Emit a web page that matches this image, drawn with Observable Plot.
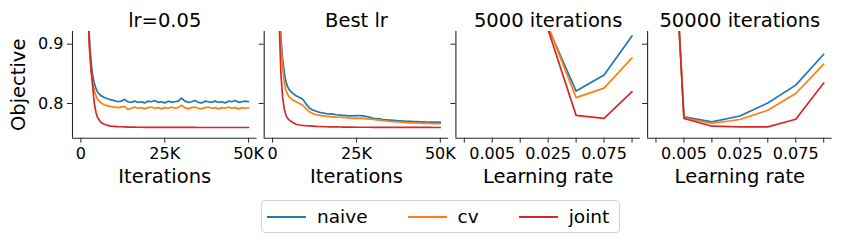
<!DOCTYPE html>
<html><head><meta charset="utf-8">
<script src="https://cdn.jsdelivr.net/npm/d3@7"></script>
<script src="https://cdn.jsdelivr.net/npm/@observablehq/plot@0.6"></script>
<style>
body{margin:0;background:#fff;font-family:"DejaVu Sans",sans-serif;}
#chart{position:relative;width:841px;height:242px;overflow:hidden;background:#fff;}
#chart svg{position:absolute;left:0;top:0;}
#legend{position:absolute;left:261px;top:200px;height:33px;box-sizing:border-box;border:1px solid #d4d4d4;border-radius:4px;display:flex;align-items:center;padding:0 10px 0 5px;font-size:18.5px;color:#000;}
.item{display:flex;align-items:center;margin-right:40px;}
.item:last-child{margin-right:0;}
.swatch{width:39px;height:2px;margin-right:11px;}
</style>
</head><body>
<div id="chart"><div id="legend"></div></div>
<script>
// ---- data ----
const series = ["naive", "cv", "joint"];
const colors = ["#1f77b4", "#ff7f0e", "#d62728"];
const panelTitles = ["lr=0.05", "Best lr", "5000 iterations", "50000 iterations"];
const iterations = [1000,2000,2500,3000,3500,4000,4500,5000,
  6000,7000,8000,9000,10000,11000,12000,13000,14000,15000,
  16000,17000,18000,19000,20000,21000,22000,23000,24000,25000,
  26000,27000,28000,29000,30000,31000,32000,33000,34000,35000,
  36000,37000,38000,39000,40000,41000,42000,43000,44000,45000,
  46000,47000,48000,49000,50000];
const iterTicks = [0, 25000, 50000];
const iterTickLabels = ["0", "25K", "50K"];
const lrNaive = [1.30,0.99,0.915,0.872,0.848,0.834,0.825,0.819,
  0.813,0.810,0.808,0.806,0.805,0.803,0.804,0.807,0.803,0.802,
  0.804,0.802,0.803,0.801,0.804,0.803,0.805,0.802,0.803,0.801,
  0.804,0.802,0.803,0.804,0.809,0.804,0.802,0.803,0.805,0.802,
  0.801,0.804,0.803,0.802,0.804,0.802,0.803,0.801,0.804,0.803,
  0.805,0.802,0.803,0.804,0.803];
const lrCv = [1.28,0.975,0.90,0.858,0.835,0.822,0.813,0.807,
  0.801,0.798,0.796,0.795,0.794,0.793,0.794,0.795,0.790,0.792,
  0.794,0.792,0.793,0.791,0.793,0.794,0.792,0.793,0.791,0.793,
  0.792,0.794,0.792,0.793,0.797,0.793,0.791,0.793,0.794,0.792,
  0.791,0.793,0.794,0.792,0.793,0.791,0.793,0.792,0.794,0.792,
  0.793,0.791,0.793,0.792,0.7925];
const lrJoint = [1.30,0.98,0.90,0.86,0.83,0.80,0.785,0.776,
  0.768,0.765,0.763,0.762,0.7615,0.761,0.7608,0.7605,0.7603,0.7602,
  0.7601,0.7600,0.7600,0.7599,0.7599,0.7598,0.7598,0.7598,0.7597,0.7597,
  0.7597,0.7597,0.7596,0.7596,0.7596,0.7596,0.7596,0.7596,0.7596,0.7595,
  0.7595,0.7595,0.7595,0.7595,0.7595,0.7595,0.7595,0.7595,0.7595,0.7595,
  0.7595,0.7595,0.7595,0.7595,0.7595];
const bestNaive = [1.35,0.96,0.91,0.875,0.852,0.836,0.828,0.823,
  0.817,0.813,0.810,0.807,0.799,0.792,0.789,0.787,0.785,0.784,
  0.783,0.7825,0.782,0.781,0.7805,0.780,0.7795,0.779,0.779,0.7795,
  0.7795,0.779,0.778,0.7765,0.775,0.7745,0.774,0.773,0.7725,0.772,
  0.7715,0.771,0.7708,0.7705,0.770,0.7698,0.7695,0.7693,0.769,0.769,
  0.7688,0.7687,0.7686,0.7685,0.7685];
const bestCv = [1.33,0.955,0.90,0.862,0.835,0.822,0.815,0.811,
  0.806,0.803,0.800,0.797,0.791,0.786,0.783,0.781,0.780,0.779,
  0.7785,0.778,0.7775,0.777,0.7768,0.7765,0.776,0.7755,0.775,0.7755,
  0.775,0.7748,0.774,0.7735,0.773,0.7725,0.772,0.7712,0.7705,0.770,
  0.7695,0.769,0.7685,0.768,0.7677,0.7675,0.7672,0.767,0.7668,0.7666,
  0.7664,0.7663,0.7662,0.7661,0.766];
const bestJoint = [1.5,0.93,0.848,0.81,0.79,0.780,0.775,0.772,
  0.768,0.765,0.7638,0.763,0.7625,0.7622,0.762,0.7615,0.7612,0.761,
  0.7608,0.7607,0.7606,0.7605,0.7604,0.7603,0.7602,0.7601,0.7601,0.7600,
  0.7600,0.7600,0.7600,0.7600,0.7599,0.7599,0.7599,0.7599,0.7599,0.7599,
  0.7598,0.7598,0.7598,0.7598,0.7598,0.7597,0.7597,0.7597,0.7597,0.7597,
  0.7596,0.7596,0.7595,0.7595,0.7595];
const lrIndex = [0, 1, 2, 3, 4, 5, 6];
const lrTickLabels = ["", "0.005", "", "0.025", "", "0.075", ""];
const it5kNaive = [1.35, 1.15, 1.00, 0.928, 0.821, 0.848, 0.914];
const it5kCv = [1.34, 1.14, 0.99, 0.930, 0.810, 0.826, 0.877];
const it5kJoint = [1.30, 1.10, 0.98, 0.924, 0.780, 0.775, 0.820];
const it50kNaive = [1.65, 0.7774, 0.769, 0.779, 0.801, 0.831, 0.883];
const it50kCv = [1.65, 0.7757, 0.7663, 0.773, 0.7887, 0.8169, 0.8663];
const it50kJoint = [1.65, 0.7747, 0.7617, 0.7606, 0.7606, 0.7735, 0.8347];
const yTicks = [0.8, 0.9];
const yLabel = "Objective";
const xLabels = ["Iterations", "Iterations", "Learning rate", "Learning rate"];

// ---- build tables ----
function table(xs, arrs) {
  return series.flatMap((s, k) => xs.map((x, i) => ({x, y: arrs[k][i], series: s})));
}
const panels = [
  {data: table(iterations, [lrNaive, lrCv, lrJoint]), domain: [-2500, 52500], ticks: iterTicks, labels: iterTickLabels},
  {data: table(iterations, [bestNaive, bestCv, bestJoint]), domain: [-2500, 52500], ticks: iterTicks, labels: iterTickLabels},
  {data: table(lrIndex, [it5kNaive, it5kCv, it5kJoint]), domain: [-0.3, 6.3], ticks: lrIndex, labels: lrTickLabels},
  {data: table(lrIndex, [it50kNaive, it50kCv, it50kJoint]), domain: [-0.3, 6.3], ticks: lrIndex, labels: lrTickLabels}
];

const W = 841, H = 195, frameW = 184.5, step = 191.7, left0 = 72, frameTop = 31, frameBottom = 137.7;
const yDomain = [0.7415, 0.9214];
const ink = "#262626";
const chart = document.getElementById("chart");

panels.forEach((p, i) => {
  const left = left0 + i * step;
  const tf = d => p.labels[p.ticks.indexOf(d)];
  const svg = Plot.plot({
    width: W, height: H,
    marginLeft: left, marginRight: W - left - frameW, marginTop: frameTop, marginBottom: H - frameBottom,
    style: {background: "transparent", overflow: "visible", fontFamily: "DejaVu Sans", color: "#000"},
    x: {domain: p.domain},
    y: {domain: yDomain},
    color: {domain: series, range: colors},
    marks: [
      Plot.line(p.data, {x: "x", y: "y", stroke: "series", z: "series", strokeWidth: 1.7, clip: true}),
      Plot.ruleX([p.domain[0]], {stroke: ink, strokeWidth: 1.1}),
      Plot.ruleY([yDomain[0]], {stroke: ink, strokeWidth: 1.1}),
      Plot.axisX({ticks: p.ticks, tickFormat: tf, tickSize: 5, tickPadding: 4, fontSize: 16, label: null, stroke: ink}),
      Plot.axisY({ticks: yTicks, tickFormat: i === 0 ? d3.format(".1f") : () => "", tickSize: 5, tickPadding: 4, fontSize: 16, label: null, stroke: ink}),
      Plot.text([panelTitles[i]], {text: d => d, frameAnchor: "top", dy: -18, fontSize: 19.5}),
      Plot.text([xLabels[i]], {text: d => d, frameAnchor: "bottom", dy: 45, fontSize: 19.5}),
      i === 0 ? Plot.text([yLabel], {text: d => d, frameAnchor: "left", textAnchor: "middle", dx: -54, rotate: -90, fontSize: 19.5}) : null
    ]
  });
  chart.appendChild(svg);
});

// ---- legend ----
const legend = document.getElementById("legend");
series.forEach((s, k) => {
  const item = document.createElement("div");
  item.className = "item";
  const sw = document.createElement("span");
  sw.className = "swatch";
  sw.style.background = colors[k];
  const tx = document.createElement("span");
  tx.textContent = s;
  item.appendChild(sw); item.appendChild(tx);
  legend.appendChild(item);
});
</script>
</body></html>
